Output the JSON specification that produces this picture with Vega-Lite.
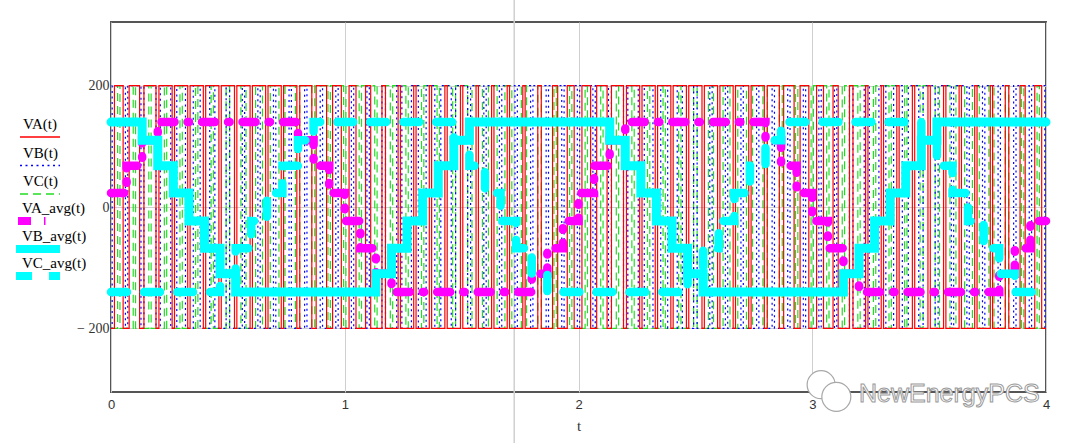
{
"$schema": "https://vega.github.io/schema/vega-lite/v6.json",
"autosize": {"type": "none"},
"padding": {"left": 111, "top": 22, "right": 34, "bottom": 51},
"width": 935,
"height": 370,
"background": "#ffffff",
"config": {
  "view": {"stroke": "#555555", "strokeWidth": 2},
  "legend": {"padding": 0}
},
"resolve": {"scale": {"color": "independent", "strokeDash": "independent"}, "legend": {"color": "independent", "strokeDash": "independent"}},
"datasets": {
"pwm": [
{"s":"VC(t)","t":0,"v":-200},
{"s":"VC(t)","t":0.0283,"v":200},{"s":"VC(t)","t":0.0383,"v":-200},
{"s":"VC(t)","t":0.0950,"v":200},{"s":"VC(t)","t":0.1050,"v":-200},
{"s":"VC(t)","t":0.1617,"v":200},{"s":"VC(t)","t":0.1717,"v":-200},
{"s":"VC(t)","t":0.2283,"v":200},{"s":"VC(t)","t":0.2383,"v":-200},
{"s":"VC(t)","t":0.2950,"v":200},{"s":"VC(t)","t":0.3050,"v":-200},
{"s":"VC(t)","t":0.3617,"v":200},{"s":"VC(t)","t":0.3717,"v":-200},
{"s":"VC(t)","t":0.4283,"v":200},{"s":"VC(t)","t":0.4383,"v":-200},
{"s":"VC(t)","t":0.4925,"v":200},{"s":"VC(t)","t":0.5075,"v":-200},
{"s":"VC(t)","t":0.5557,"v":200},{"s":"VC(t)","t":0.5777,"v":-200},
{"s":"VC(t)","t":0.6185,"v":200},{"s":"VC(t)","t":0.6481,"v":-200},
{"s":"VC(t)","t":0.6814,"v":200},{"s":"VC(t)","t":0.7186,"v":-200},
{"s":"VC(t)","t":0.7444,"v":200},{"s":"VC(t)","t":0.7890,"v":-200},
{"s":"VC(t)","t":0.8075,"v":200},{"s":"VC(t)","t":0.8591,"v":-200},
{"s":"VC(t)","t":0.8717,"v":200},{"s":"VC(t)","t":0.9283,"v":-200},
{"s":"VC(t)","t":0.9384,"v":200},{"s":"VC(t)","t":0.9950,"v":-200},
{"s":"VC(t)","t":1.0050,"v":200},{"s":"VC(t)","t":1.0616,"v":-200},
{"s":"VC(t)","t":1.0717,"v":200},{"s":"VC(t)","t":1.1283,"v":-200},
{"s":"VC(t)","t":1.1384,"v":200},{"s":"VC(t)","t":1.1950,"v":-200},
{"s":"VC(t)","t":1.2050,"v":200},{"s":"VC(t)","t":1.2616,"v":-200},
{"s":"VC(t)","t":1.2717,"v":200},{"s":"VC(t)","t":1.3283,"v":-200},
{"s":"VC(t)","t":1.3384,"v":200},{"s":"VC(t)","t":1.3950,"v":-200},
{"s":"VC(t)","t":1.4050,"v":200},{"s":"VC(t)","t":1.4616,"v":-200},
{"s":"VC(t)","t":1.4742,"v":200},{"s":"VC(t)","t":1.5258,"v":-200},
{"s":"VC(t)","t":1.5444,"v":200},{"s":"VC(t)","t":1.5890,"v":-200},
{"s":"VC(t)","t":1.6147,"v":200},{"s":"VC(t)","t":1.6519,"v":-200},
{"s":"VC(t)","t":1.6852,"v":200},{"s":"VC(t)","t":1.7148,"v":-200},
{"s":"VC(t)","t":1.7557,"v":200},{"s":"VC(t)","t":1.7777,"v":-200},
{"s":"VC(t)","t":1.8258,"v":200},{"s":"VC(t)","t":1.8408,"v":-200},
{"s":"VC(t)","t":1.8950,"v":200},{"s":"VC(t)","t":1.9050,"v":-200},
{"s":"VC(t)","t":1.9617,"v":200},{"s":"VC(t)","t":1.9717,"v":-200},
{"s":"VC(t)","t":2.0283,"v":200},{"s":"VC(t)","t":2.0383,"v":-200},
{"s":"VC(t)","t":2.0950,"v":200},{"s":"VC(t)","t":2.1050,"v":-200},
{"s":"VC(t)","t":2.1617,"v":200},{"s":"VC(t)","t":2.1717,"v":-200},
{"s":"VC(t)","t":2.2283,"v":200},{"s":"VC(t)","t":2.2383,"v":-200},
{"s":"VC(t)","t":2.2950,"v":200},{"s":"VC(t)","t":2.3050,"v":-200},
{"s":"VC(t)","t":2.3617,"v":200},{"s":"VC(t)","t":2.3717,"v":-200},
{"s":"VC(t)","t":2.4283,"v":200},{"s":"VC(t)","t":2.4383,"v":-200},
{"s":"VC(t)","t":2.4925,"v":200},{"s":"VC(t)","t":2.5075,"v":-200},
{"s":"VC(t)","t":2.5557,"v":200},{"s":"VC(t)","t":2.5777,"v":-200},
{"s":"VC(t)","t":2.6185,"v":200},{"s":"VC(t)","t":2.6481,"v":-200},
{"s":"VC(t)","t":2.6814,"v":200},{"s":"VC(t)","t":2.7186,"v":-200},
{"s":"VC(t)","t":2.7444,"v":200},{"s":"VC(t)","t":2.7890,"v":-200},
{"s":"VC(t)","t":2.8075,"v":200},{"s":"VC(t)","t":2.8591,"v":-200},
{"s":"VC(t)","t":2.8717,"v":200},{"s":"VC(t)","t":2.9283,"v":-200},
{"s":"VC(t)","t":2.9384,"v":200},{"s":"VC(t)","t":2.9950,"v":-200},
{"s":"VC(t)","t":3.0050,"v":200},{"s":"VC(t)","t":3.0616,"v":-200},
{"s":"VC(t)","t":3.0717,"v":200},{"s":"VC(t)","t":3.1283,"v":-200},
{"s":"VC(t)","t":3.1384,"v":200},{"s":"VC(t)","t":3.1950,"v":-200},
{"s":"VC(t)","t":3.2050,"v":200},{"s":"VC(t)","t":3.2616,"v":-200},
{"s":"VC(t)","t":3.2717,"v":200},{"s":"VC(t)","t":3.3283,"v":-200},
{"s":"VC(t)","t":3.3384,"v":200},{"s":"VC(t)","t":3.3950,"v":-200},
{"s":"VC(t)","t":3.4050,"v":200},{"s":"VC(t)","t":3.4616,"v":-200},
{"s":"VC(t)","t":3.4742,"v":200},{"s":"VC(t)","t":3.5258,"v":-200},
{"s":"VC(t)","t":3.5444,"v":200},{"s":"VC(t)","t":3.5890,"v":-200},
{"s":"VC(t)","t":3.6147,"v":200},{"s":"VC(t)","t":3.6519,"v":-200},
{"s":"VC(t)","t":3.6852,"v":200},{"s":"VC(t)","t":3.7148,"v":-200},
{"s":"VC(t)","t":3.7557,"v":200},{"s":"VC(t)","t":3.7777,"v":-200},
{"s":"VC(t)","t":3.8258,"v":200},{"s":"VC(t)","t":3.8408,"v":-200},
{"s":"VC(t)","t":3.8950,"v":200},{"s":"VC(t)","t":3.9050,"v":-200},
{"s":"VC(t)","t":3.9617,"v":200},{"s":"VC(t)","t":3.9717,"v":-200},
{"s":"VC(t)","t":4,"v":-200},
{"s":"VB(t)","t":0,"v":-200},
{"s":"VB(t)","t":0.0050,"v":200},{"s":"VB(t)","t":0.0616,"v":-200},
{"s":"VB(t)","t":0.0717,"v":200},{"s":"VB(t)","t":0.1283,"v":-200},
{"s":"VB(t)","t":0.1409,"v":200},{"s":"VB(t)","t":0.1925,"v":-200},
{"s":"VB(t)","t":0.2110,"v":200},{"s":"VB(t)","t":0.2556,"v":-200},
{"s":"VB(t)","t":0.2814,"v":200},{"s":"VB(t)","t":0.3186,"v":-200},
{"s":"VB(t)","t":0.3519,"v":200},{"s":"VB(t)","t":0.3815,"v":-200},
{"s":"VB(t)","t":0.4223,"v":200},{"s":"VB(t)","t":0.4443,"v":-200},
{"s":"VB(t)","t":0.4925,"v":200},{"s":"VB(t)","t":0.5075,"v":-200},
{"s":"VB(t)","t":0.5617,"v":200},{"s":"VB(t)","t":0.5717,"v":-200},
{"s":"VB(t)","t":0.6283,"v":200},{"s":"VB(t)","t":0.6383,"v":-200},
{"s":"VB(t)","t":0.6950,"v":200},{"s":"VB(t)","t":0.7050,"v":-200},
{"s":"VB(t)","t":0.7617,"v":200},{"s":"VB(t)","t":0.7717,"v":-200},
{"s":"VB(t)","t":0.8283,"v":200},{"s":"VB(t)","t":0.8383,"v":-200},
{"s":"VB(t)","t":0.8950,"v":200},{"s":"VB(t)","t":0.9050,"v":-200},
{"s":"VB(t)","t":0.9617,"v":200},{"s":"VB(t)","t":0.9717,"v":-200},
{"s":"VB(t)","t":1.0283,"v":200},{"s":"VB(t)","t":1.0383,"v":-200},
{"s":"VB(t)","t":1.0950,"v":200},{"s":"VB(t)","t":1.1050,"v":-200},
{"s":"VB(t)","t":1.1592,"v":200},{"s":"VB(t)","t":1.1742,"v":-200},
{"s":"VB(t)","t":1.2223,"v":200},{"s":"VB(t)","t":1.2443,"v":-200},
{"s":"VB(t)","t":1.2852,"v":200},{"s":"VB(t)","t":1.3148,"v":-200},
{"s":"VB(t)","t":1.3481,"v":200},{"s":"VB(t)","t":1.3853,"v":-200},
{"s":"VB(t)","t":1.4110,"v":200},{"s":"VB(t)","t":1.4556,"v":-200},
{"s":"VB(t)","t":1.4742,"v":200},{"s":"VB(t)","t":1.5258,"v":-200},
{"s":"VB(t)","t":1.5384,"v":200},{"s":"VB(t)","t":1.5950,"v":-200},
{"s":"VB(t)","t":1.6050,"v":200},{"s":"VB(t)","t":1.6616,"v":-200},
{"s":"VB(t)","t":1.6717,"v":200},{"s":"VB(t)","t":1.7283,"v":-200},
{"s":"VB(t)","t":1.7384,"v":200},{"s":"VB(t)","t":1.7950,"v":-200},
{"s":"VB(t)","t":1.8050,"v":200},{"s":"VB(t)","t":1.8616,"v":-200},
{"s":"VB(t)","t":1.8717,"v":200},{"s":"VB(t)","t":1.9283,"v":-200},
{"s":"VB(t)","t":1.9384,"v":200},{"s":"VB(t)","t":1.9950,"v":-200},
{"s":"VB(t)","t":2.0050,"v":200},{"s":"VB(t)","t":2.0616,"v":-200},
{"s":"VB(t)","t":2.0717,"v":200},{"s":"VB(t)","t":2.1283,"v":-200},
{"s":"VB(t)","t":2.1409,"v":200},{"s":"VB(t)","t":2.1925,"v":-200},
{"s":"VB(t)","t":2.2110,"v":200},{"s":"VB(t)","t":2.2556,"v":-200},
{"s":"VB(t)","t":2.2814,"v":200},{"s":"VB(t)","t":2.3186,"v":-200},
{"s":"VB(t)","t":2.3519,"v":200},{"s":"VB(t)","t":2.3815,"v":-200},
{"s":"VB(t)","t":2.4223,"v":200},{"s":"VB(t)","t":2.4443,"v":-200},
{"s":"VB(t)","t":2.4925,"v":200},{"s":"VB(t)","t":2.5075,"v":-200},
{"s":"VB(t)","t":2.5617,"v":200},{"s":"VB(t)","t":2.5717,"v":-200},
{"s":"VB(t)","t":2.6283,"v":200},{"s":"VB(t)","t":2.6383,"v":-200},
{"s":"VB(t)","t":2.6950,"v":200},{"s":"VB(t)","t":2.7050,"v":-200},
{"s":"VB(t)","t":2.7617,"v":200},{"s":"VB(t)","t":2.7717,"v":-200},
{"s":"VB(t)","t":2.8283,"v":200},{"s":"VB(t)","t":2.8383,"v":-200},
{"s":"VB(t)","t":2.8950,"v":200},{"s":"VB(t)","t":2.9050,"v":-200},
{"s":"VB(t)","t":2.9617,"v":200},{"s":"VB(t)","t":2.9717,"v":-200},
{"s":"VB(t)","t":3.0283,"v":200},{"s":"VB(t)","t":3.0383,"v":-200},
{"s":"VB(t)","t":3.0950,"v":200},{"s":"VB(t)","t":3.1050,"v":-200},
{"s":"VB(t)","t":3.1592,"v":200},{"s":"VB(t)","t":3.1742,"v":-200},
{"s":"VB(t)","t":3.2223,"v":200},{"s":"VB(t)","t":3.2443,"v":-200},
{"s":"VB(t)","t":3.2852,"v":200},{"s":"VB(t)","t":3.3148,"v":-200},
{"s":"VB(t)","t":3.3481,"v":200},{"s":"VB(t)","t":3.3853,"v":-200},
{"s":"VB(t)","t":3.4110,"v":200},{"s":"VB(t)","t":3.4556,"v":-200},
{"s":"VB(t)","t":3.4742,"v":200},{"s":"VB(t)","t":3.5258,"v":-200},
{"s":"VB(t)","t":3.5384,"v":200},{"s":"VB(t)","t":3.5950,"v":-200},
{"s":"VB(t)","t":3.6050,"v":200},{"s":"VB(t)","t":3.6616,"v":-200},
{"s":"VB(t)","t":3.6717,"v":200},{"s":"VB(t)","t":3.7283,"v":-200},
{"s":"VB(t)","t":3.7384,"v":200},{"s":"VB(t)","t":3.7950,"v":-200},
{"s":"VB(t)","t":3.8050,"v":200},{"s":"VB(t)","t":3.8616,"v":-200},
{"s":"VB(t)","t":3.8717,"v":200},{"s":"VB(t)","t":3.9283,"v":-200},
{"s":"VB(t)","t":3.9384,"v":200},{"s":"VB(t)","t":3.9950,"v":-200},
{"s":"VB(t)","t":4,"v":-200},
{"s":"VA(t)","t":0,"v":-200},
{"s":"VA(t)","t":0.0147,"v":200},{"s":"VA(t)","t":0.0519,"v":-200},
{"s":"VA(t)","t":0.0777,"v":200},{"s":"VA(t)","t":0.1223,"v":-200},
{"s":"VA(t)","t":0.1409,"v":200},{"s":"VA(t)","t":0.1925,"v":-200},
{"s":"VA(t)","t":0.2050,"v":200},{"s":"VA(t)","t":0.2616,"v":-200},
{"s":"VA(t)","t":0.2717,"v":200},{"s":"VA(t)","t":0.3283,"v":-200},
{"s":"VA(t)","t":0.3384,"v":200},{"s":"VA(t)","t":0.3950,"v":-200},
{"s":"VA(t)","t":0.4050,"v":200},{"s":"VA(t)","t":0.4616,"v":-200},
{"s":"VA(t)","t":0.4717,"v":200},{"s":"VA(t)","t":0.5283,"v":-200},
{"s":"VA(t)","t":0.5384,"v":200},{"s":"VA(t)","t":0.5950,"v":-200},
{"s":"VA(t)","t":0.6050,"v":200},{"s":"VA(t)","t":0.6616,"v":-200},
{"s":"VA(t)","t":0.6717,"v":200},{"s":"VA(t)","t":0.7283,"v":-200},
{"s":"VA(t)","t":0.7384,"v":200},{"s":"VA(t)","t":0.7950,"v":-200},
{"s":"VA(t)","t":0.8075,"v":200},{"s":"VA(t)","t":0.8591,"v":-200},
{"s":"VA(t)","t":0.8777,"v":200},{"s":"VA(t)","t":0.9223,"v":-200},
{"s":"VA(t)","t":0.9481,"v":200},{"s":"VA(t)","t":0.9853,"v":-200},
{"s":"VA(t)","t":1.0185,"v":200},{"s":"VA(t)","t":1.0481,"v":-200},
{"s":"VA(t)","t":1.0890,"v":200},{"s":"VA(t)","t":1.1110,"v":-200},
{"s":"VA(t)","t":1.1592,"v":200},{"s":"VA(t)","t":1.1742,"v":-200},
{"s":"VA(t)","t":1.2283,"v":200},{"s":"VA(t)","t":1.2383,"v":-200},
{"s":"VA(t)","t":1.2950,"v":200},{"s":"VA(t)","t":1.3050,"v":-200},
{"s":"VA(t)","t":1.3617,"v":200},{"s":"VA(t)","t":1.3717,"v":-200},
{"s":"VA(t)","t":1.4283,"v":200},{"s":"VA(t)","t":1.4383,"v":-200},
{"s":"VA(t)","t":1.4950,"v":200},{"s":"VA(t)","t":1.5050,"v":-200},
{"s":"VA(t)","t":1.5617,"v":200},{"s":"VA(t)","t":1.5717,"v":-200},
{"s":"VA(t)","t":1.6283,"v":200},{"s":"VA(t)","t":1.6383,"v":-200},
{"s":"VA(t)","t":1.6950,"v":200},{"s":"VA(t)","t":1.7050,"v":-200},
{"s":"VA(t)","t":1.7617,"v":200},{"s":"VA(t)","t":1.7717,"v":-200},
{"s":"VA(t)","t":1.8258,"v":200},{"s":"VA(t)","t":1.8408,"v":-200},
{"s":"VA(t)","t":1.8890,"v":200},{"s":"VA(t)","t":1.9110,"v":-200},
{"s":"VA(t)","t":1.9519,"v":200},{"s":"VA(t)","t":1.9815,"v":-200},
{"s":"VA(t)","t":2.0147,"v":200},{"s":"VA(t)","t":2.0519,"v":-200},
{"s":"VA(t)","t":2.0777,"v":200},{"s":"VA(t)","t":2.1223,"v":-200},
{"s":"VA(t)","t":2.1409,"v":200},{"s":"VA(t)","t":2.1925,"v":-200},
{"s":"VA(t)","t":2.2050,"v":200},{"s":"VA(t)","t":2.2616,"v":-200},
{"s":"VA(t)","t":2.2717,"v":200},{"s":"VA(t)","t":2.3283,"v":-200},
{"s":"VA(t)","t":2.3384,"v":200},{"s":"VA(t)","t":2.3950,"v":-200},
{"s":"VA(t)","t":2.4050,"v":200},{"s":"VA(t)","t":2.4616,"v":-200},
{"s":"VA(t)","t":2.4717,"v":200},{"s":"VA(t)","t":2.5283,"v":-200},
{"s":"VA(t)","t":2.5384,"v":200},{"s":"VA(t)","t":2.5950,"v":-200},
{"s":"VA(t)","t":2.6050,"v":200},{"s":"VA(t)","t":2.6616,"v":-200},
{"s":"VA(t)","t":2.6717,"v":200},{"s":"VA(t)","t":2.7283,"v":-200},
{"s":"VA(t)","t":2.7384,"v":200},{"s":"VA(t)","t":2.7950,"v":-200},
{"s":"VA(t)","t":2.8075,"v":200},{"s":"VA(t)","t":2.8591,"v":-200},
{"s":"VA(t)","t":2.8777,"v":200},{"s":"VA(t)","t":2.9223,"v":-200},
{"s":"VA(t)","t":2.9481,"v":200},{"s":"VA(t)","t":2.9853,"v":-200},
{"s":"VA(t)","t":3.0185,"v":200},{"s":"VA(t)","t":3.0481,"v":-200},
{"s":"VA(t)","t":3.0890,"v":200},{"s":"VA(t)","t":3.1110,"v":-200},
{"s":"VA(t)","t":3.1592,"v":200},{"s":"VA(t)","t":3.1742,"v":-200},
{"s":"VA(t)","t":3.2283,"v":200},{"s":"VA(t)","t":3.2383,"v":-200},
{"s":"VA(t)","t":3.2950,"v":200},{"s":"VA(t)","t":3.3050,"v":-200},
{"s":"VA(t)","t":3.3617,"v":200},{"s":"VA(t)","t":3.3717,"v":-200},
{"s":"VA(t)","t":3.4283,"v":200},{"s":"VA(t)","t":3.4383,"v":-200},
{"s":"VA(t)","t":3.4950,"v":200},{"s":"VA(t)","t":3.5050,"v":-200},
{"s":"VA(t)","t":3.5617,"v":200},{"s":"VA(t)","t":3.5717,"v":-200},
{"s":"VA(t)","t":3.6283,"v":200},{"s":"VA(t)","t":3.6383,"v":-200},
{"s":"VA(t)","t":3.6950,"v":200},{"s":"VA(t)","t":3.7050,"v":-200},
{"s":"VA(t)","t":3.7617,"v":200},{"s":"VA(t)","t":3.7717,"v":-200},
{"s":"VA(t)","t":3.8258,"v":200},{"s":"VA(t)","t":3.8408,"v":-200},
{"s":"VA(t)","t":3.8890,"v":200},{"s":"VA(t)","t":3.9110,"v":-200},
{"s":"VA(t)","t":3.9519,"v":200},{"s":"VA(t)","t":3.9815,"v":-200},
{"s":"VA(t)","t":4,"v":-200}
],
"avg": [
{"s":"VA_avg(t)","t":0,"v":23},{"s":"VA_avg(t)","t":0.0667,"v":68},{"s":"VA_avg(t)","t":0.1333,"v":110},{"s":"VA_avg(t)","t":0.2,"v":140},
{"s":"VA_avg(t)","t":0.8,"v":110},{"s":"VA_avg(t)","t":0.8667,"v":68},{"s":"VA_avg(t)","t":0.9333,"v":23},{"s":"VA_avg(t)","t":1.0,"v":-23},
{"s":"VA_avg(t)","t":1.0667,"v":-68},{"s":"VA_avg(t)","t":1.1333,"v":-110},{"s":"VA_avg(t)","t":1.2,"v":-140},{"s":"VA_avg(t)","t":1.8,"v":-110},
{"s":"VA_avg(t)","t":1.8667,"v":-68},{"s":"VA_avg(t)","t":1.9333,"v":-23},{"s":"VA_avg(t)","t":2.0,"v":23},{"s":"VA_avg(t)","t":2.0667,"v":68},
{"s":"VA_avg(t)","t":2.1333,"v":110},{"s":"VA_avg(t)","t":2.2,"v":140},{"s":"VA_avg(t)","t":2.8,"v":110},{"s":"VA_avg(t)","t":2.8667,"v":68},
{"s":"VA_avg(t)","t":2.9333,"v":23},{"s":"VA_avg(t)","t":3.0,"v":-23},{"s":"VA_avg(t)","t":3.0667,"v":-68},{"s":"VA_avg(t)","t":3.1333,"v":-110},
{"s":"VA_avg(t)","t":3.2,"v":-140},{"s":"VA_avg(t)","t":3.8,"v":-110},{"s":"VA_avg(t)","t":3.8667,"v":-68},{"s":"VA_avg(t)","t":3.9333,"v":-23},
{"s":"VA_avg(t)","t":4,"v":-23},
{"s":"VB_avg(t)","t":0,"v":140},{"s":"VB_avg(t)","t":0.1333,"v":110},{"s":"VB_avg(t)","t":0.2,"v":68},{"s":"VB_avg(t)","t":0.2667,"v":23},
{"s":"VB_avg(t)","t":0.3333,"v":-23},{"s":"VB_avg(t)","t":0.4,"v":-68},{"s":"VB_avg(t)","t":0.4667,"v":-110},{"s":"VB_avg(t)","t":0.5333,"v":-140},
{"s":"VB_avg(t)","t":1.1333,"v":-110},{"s":"VB_avg(t)","t":1.2,"v":-68},{"s":"VB_avg(t)","t":1.2667,"v":-23},{"s":"VB_avg(t)","t":1.3333,"v":23},
{"s":"VB_avg(t)","t":1.4,"v":68},{"s":"VB_avg(t)","t":1.4667,"v":110},{"s":"VB_avg(t)","t":1.5333,"v":140},{"s":"VB_avg(t)","t":2.1333,"v":110},
{"s":"VB_avg(t)","t":2.2,"v":68},{"s":"VB_avg(t)","t":2.2667,"v":23},{"s":"VB_avg(t)","t":2.3333,"v":-23},{"s":"VB_avg(t)","t":2.4,"v":-68},
{"s":"VB_avg(t)","t":2.4667,"v":-110},{"s":"VB_avg(t)","t":2.5333,"v":-140},{"s":"VB_avg(t)","t":3.1333,"v":-110},{"s":"VB_avg(t)","t":3.2,"v":-68},
{"s":"VB_avg(t)","t":3.2667,"v":-23},{"s":"VB_avg(t)","t":3.3333,"v":23},{"s":"VB_avg(t)","t":3.4,"v":68},{"s":"VB_avg(t)","t":3.4667,"v":110},
{"s":"VB_avg(t)","t":3.5333,"v":140},{"s":"VB_avg(t)","t":4,"v":140},
{"s":"VC_avg(t)","t":0,"v":-140},{"s":"VC_avg(t)","t":0.4667,"v":-110},{"s":"VC_avg(t)","t":0.5333,"v":-68},{"s":"VC_avg(t)","t":0.6,"v":-23},
{"s":"VC_avg(t)","t":0.6667,"v":23},{"s":"VC_avg(t)","t":0.7333,"v":68},{"s":"VC_avg(t)","t":0.8,"v":110},{"s":"VC_avg(t)","t":0.8667,"v":140},
{"s":"VC_avg(t)","t":1.4667,"v":110},{"s":"VC_avg(t)","t":1.5333,"v":68},{"s":"VC_avg(t)","t":1.6,"v":23},{"s":"VC_avg(t)","t":1.6667,"v":-23},
{"s":"VC_avg(t)","t":1.7333,"v":-68},{"s":"VC_avg(t)","t":1.8,"v":-110},{"s":"VC_avg(t)","t":1.8667,"v":-140},{"s":"VC_avg(t)","t":2.4667,"v":-110},
{"s":"VC_avg(t)","t":2.5333,"v":-68},{"s":"VC_avg(t)","t":2.6,"v":-23},{"s":"VC_avg(t)","t":2.6667,"v":23},{"s":"VC_avg(t)","t":2.7333,"v":68},
{"s":"VC_avg(t)","t":2.8,"v":110},{"s":"VC_avg(t)","t":2.8667,"v":140},{"s":"VC_avg(t)","t":3.4667,"v":110},{"s":"VC_avg(t)","t":3.5333,"v":68},
{"s":"VC_avg(t)","t":3.6,"v":23},{"s":"VC_avg(t)","t":3.6667,"v":-23},{"s":"VC_avg(t)","t":3.7333,"v":-68},{"s":"VC_avg(t)","t":3.8,"v":-110},
{"s":"VC_avg(t)","t":3.8667,"v":-140},{"s":"VC_avg(t)","t":4,"v":-140}
]
},
"layer": [
{
  "data": {"values": [{}]},
  "mark": {"type": "rule", "color": "#d0d0d0", "strokeWidth": 1.5},
  "encoding": {
    "x": {"datum": 1.725, "type": "quantitative", "scale": {"domain": [0, 4], "nice": false, "zero": false}},
    "y": {"datum": 345, "type": "quantitative", "scale": {"domain": [-305, 305], "nice": false, "zero": false}},
    "y2": {"datum": -395}
  }
},
{
  "data": {"name": "pwm"},
  "mark": {"type": "line", "interpolate": "step-after", "strokeWidth": 1.2},
  "encoding": {
    "x": {"field": "t", "type": "quantitative", "title": "t",
      "axis": {"values": [0, 1, 2, 3, 4], "format": "d", "ticks": false, "domain": false, "grid": true, "gridColor": "#cfcfcf", "gridWidth": 1,
        "labelFont": "Liberation Sans", "labelFontSize": 13, "labelColor": "#333333", "labelPadding": 6, "labelFlush": false,
        "titleFont": "Liberation Serif", "titleFontSize": 15, "titleFontWeight": "normal", "titleColor": "#333333", "titlePadding": 7}},
    "y": {"field": "v", "type": "quantitative", "title": null,
      "axis": {"values": [-200, 0, 200], "ticks": false, "domain": false, "grid": true, "gridColor": "#cfcfcf", "gridWidth": 1,
        "labelFont": "Liberation Serif", "labelFontSize": 14, "labelColor": "#333333", "labelPadding": 2,
        "labelExpr": "datum.value < 0 ? '− 200' : datum.label"}},
    "color": {"field": "s", "type": "nominal",
      "scale": {"domain": ["VA(t)", "VB(t)", "VC(t)"], "range": ["#ff0000", "#0000ff", "#22dd22"]},
      "legend": {"title": null, "orient": "none", "legendX": -82, "legendY": 91, "symbolType": "M-2,1.3L2,1.3", "symbolSize": 400, "symbolStrokeWidth": 1.5,
        "labelFont": "Liberation Serif", "labelFontSize": 15, "labelColor": "#000000", "labelOffset": -28, "rowPadding": 1.5, "labelBaseline": "middle"}},
    "strokeDash": {"field": "s", "type": "nominal",
      "scale": {"domain": ["VA(t)", "VB(t)", "VC(t)"], "range": [[1, 0], [2, 3.5], [8, 5]]},
      "legend": {"title": null, "orient": "none", "legendX": -82, "legendY": 91, "symbolType": "M-2,1.3L2,1.3", "symbolSize": 400, "symbolStrokeWidth": 1.5,
        "labelFont": "Liberation Serif", "labelFontSize": 15, "labelColor": "#000000", "labelOffset": -28, "rowPadding": 1.5, "labelBaseline": "middle"}}
  }
},
{
  "data": {"name": "avg"},
  "transform": [{"filter": {"field": "s", "equal": "VA_avg(t)"}}],
  "mark": {"type": "line", "interpolate": "step-after", "strokeCap": "round", "strokeWidth": 8.5},
  "encoding": {
    "x": {"field": "t", "type": "quantitative"},
    "y": {"field": "v", "type": "quantitative"},
    "color": {"field": "s", "type": "nominal",
      "scale": {"domain": ["VA_avg(t)"], "range": ["#ff00ff"]},
      "legend": {"title": null, "orient": "none", "legendX": -87, "legendY": 172, "symbolType": "M-2,1.3L2,1.3", "symbolSize": 400, "symbolStrokeWidth": 8,
        "labelFont": "Liberation Serif", "labelFontSize": 15, "labelColor": "#000000", "labelOffset": -30, "labelBaseline": "middle"}},
    "strokeDash": {"field": "s", "type": "nominal",
      "scale": {"domain": ["VA_avg(t)"], "range": [[13, 13, 1.5, 13]]},
      "legend": {"title": null, "orient": "none", "legendX": -87, "legendY": 172, "symbolType": "M-2,1.3L2,1.3", "symbolSize": 400, "symbolStrokeWidth": 8,
        "labelFont": "Liberation Serif", "labelFontSize": 15, "labelColor": "#000000", "labelOffset": -30, "labelBaseline": "middle"}}
  }
},
{
  "data": {"name": "avg"},
  "transform": [{"filter": {"field": "s", "equal": "VB_avg(t)"}}],
  "mark": {"type": "line", "interpolate": "step-after", "strokeCap": "round", "strokeWidth": 9},
  "encoding": {
    "x": {"field": "t", "type": "quantitative"},
    "y": {"field": "v", "type": "quantitative"},
    "color": {"field": "s", "type": "nominal",
      "scale": {"domain": ["VB_avg(t)"], "range": ["#00ffff"]},
      "legend": {"title": null, "orient": "none", "legendX": -87, "legendY": 200, "symbolType": "M-2.2,1.3L2.2,1.3", "symbolSize": 400, "symbolStrokeWidth": 8,
        "labelFont": "Liberation Serif", "labelFontSize": 15, "labelColor": "#000000", "labelOffset": -30, "labelBaseline": "middle"}},
    "strokeDash": {"field": "s", "type": "nominal",
      "scale": {"domain": ["VB_avg(t)"], "range": [[1, 0]]},
      "legend": {"title": null, "orient": "none", "legendX": -87, "legendY": 200, "symbolType": "M-2.2,1.3L2.2,1.3", "symbolSize": 400, "symbolStrokeWidth": 8,
        "labelFont": "Liberation Serif", "labelFontSize": 15, "labelColor": "#000000", "labelOffset": -30, "labelBaseline": "middle"}}
  }
},
{
  "data": {"name": "avg"},
  "transform": [{"filter": {"field": "s", "equal": "VC_avg(t)"}}],
  "mark": {"type": "line", "interpolate": "step-after", "strokeCap": "round", "strokeWidth": 8.5},
  "encoding": {
    "x": {"field": "t", "type": "quantitative"},
    "y": {"field": "v", "type": "quantitative"},
    "color": {"field": "s", "type": "nominal",
      "scale": {"domain": ["VC_avg(t)"], "range": ["#00ffff"]},
      "legend": {"title": null, "orient": "none", "legendX": -87, "legendY": 227, "symbolType": "M-2.2,1.3L2.2,1.3", "symbolSize": 400, "symbolStrokeWidth": 8,
        "labelFont": "Liberation Serif", "labelFontSize": 15, "labelColor": "#000000", "labelOffset": -30, "labelBaseline": "middle"}},
    "strokeDash": {"field": "s", "type": "nominal",
      "scale": {"domain": ["VC_avg(t)"], "range": [[16, 17]]},
      "legend": {"title": null, "orient": "none", "legendX": -87, "legendY": 227, "symbolType": "M-2.2,1.3L2.2,1.3", "symbolSize": 400, "symbolStrokeWidth": 8,
        "labelFont": "Liberation Serif", "labelFontSize": 15, "labelColor": "#000000", "labelOffset": -30, "labelBaseline": "middle"}}
  }
},
{
  "data": {"values": [{}]},
  "mark": {"type": "point", "filled": true, "fill": "#ffffff", "stroke": "#a8a8a8", "strokeWidth": 1.2, "opacity": 1, "size": 784},
  "encoding": {
    "x": {"datum": 3.038, "type": "quantitative"},
    "y": {"datum": -293, "type": "quantitative"}
  }
},
{
  "data": {"values": [{}]},
  "mark": {"type": "point", "filled": true, "fill": "#ffffff", "stroke": "#a8a8a8", "strokeWidth": 1.2, "opacity": 1, "size": 841},
  "encoding": {
    "x": {"datum": 3.103, "type": "quantitative"},
    "y": {"datum": -313, "type": "quantitative"}
  }
},
{
  "data": {"values": [{}]},
  "mark": {"type": "text", "text": "NewEnergyPCS", "font": "Liberation Sans", "fontSize": 25, "align": "left", "baseline": "alphabetic",
           "fill": "#ffffff", "stroke": "#9a9a9a", "strokeWidth": 1},
  "encoding": {
    "x": {"datum": 3.2, "type": "quantitative"},
    "y": {"datum": -322, "type": "quantitative"}
  }
}
]
}
